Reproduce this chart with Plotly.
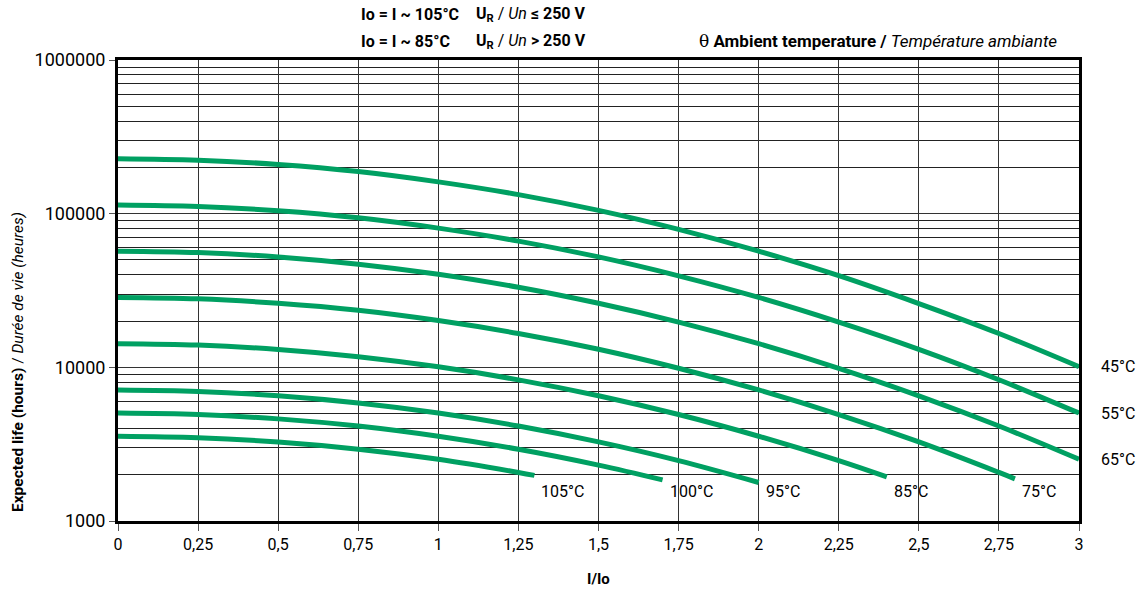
import plotly.graph_objects as go
import math

# ---- data ----
X_STEP = [0, 0.25, 0.5, 0.75, 1.0, 1.25, 1.5, 1.75, 2.0, 2.25, 2.5, 2.75, 3.0]

x_45 = X_STEP
life_45 = [228000, 223000, 209000, 188000, 161000, 133000, 105000, 79000, 57000, 39500, 26000, 16600, 10100]
x_55 = X_STEP
life_55 = [114000, 111500, 104500, 94000, 80500, 66300, 52300, 39400, 28500, 19700, 13100, 8300, 5040]
x_65 = X_STEP
life_65 = [57000, 55800, 52300, 46900, 40300, 33200, 26100, 19700, 14250, 9860, 6530, 4150, 2520]
x_75 = [0, 0.25, 0.5, 0.75, 1.0, 1.25, 1.5, 1.75, 2.0, 2.25, 2.5, 2.75, 2.8]
life_75 = [28500, 27900, 26100, 23500, 20150, 16600, 13100, 9860, 7125, 4930, 3270, 2070, 1880]
x_85 = [0, 0.25, 0.5, 0.75, 1.0, 1.25, 1.5, 1.75, 2.0, 2.25, 2.4]
life_85 = [14250, 13950, 13070, 11730, 10080, 8290, 6530, 4930, 3560, 2470, 1935]
x_95 = [0, 0.25, 0.5, 0.75, 1.0, 1.25, 1.5, 1.75, 2.0]
life_95 = [7125, 6970, 6530, 5860, 5040, 4150, 3270, 2470, 1780]
x_100 = [0, 0.25, 0.5, 0.75, 1.0, 1.25, 1.5, 1.7]
life_100 = [5040, 4930, 4620, 4150, 3560, 2930, 2310, 1850]
x_105 = [0, 0.25, 0.5, 0.75, 1.0, 1.25, 1.3]
life_105 = [3560, 3480, 3265, 2930, 2520, 2070, 1980]

series = [
    ("45°C", x_45, life_45, "right"),
    ("55°C", x_55, life_55, "right"),
    ("65°C", x_65, life_65, "right"),
    ("75°C", x_75, life_75, "below"),
    ("85°C", x_85, life_85, "below"),
    ("95°C", x_95, life_95, "below"),
    ("100°C", x_100, life_100, "below"),
    ("105°C", x_105, life_105, "below"),
]

x_tick_vals = [0, 0.25, 0.5, 0.75, 1, 1.25, 1.5, 1.75, 2, 2.25, 2.5, 2.75, 3]
x_tick_text = ["0", "0,25", "0,5", "0,75", "1", "1,25", "1,5", "1,75", "2", "2,25", "2,5", "2,75", "3"]
y_tick_vals = [1000, 10000, 100000, 1000000]
y_tick_text = ["1000", "10000", "100000", "1000000"]
y_minor_vals = [m * d for d in (1000, 10000, 100000) for m in range(2, 10)]

GREEN = "#00A062"
FONT = "Roboto, 'Open Sans', sans-serif"

W, H = 1142, 592
L, R, T, B = 118, 63, 60, 71
PW, PH = W - L - R, H - T - B


def px(xp):
    return (xp - L) / PW


def py(yp):
    return (H - B - yp) / PH


fig = go.Figure()
for name, xs, ys, pos in series:
    fig.add_trace(go.Scatter(x=xs, y=ys, mode="lines", name=name,
                             line=dict(color=GREEN, width=5, shape="spline"),
                             showlegend=False, hoverinfo="x+y"))

lab_font = dict(size=16, color="black", family=FONT)
annotations = []
for name, xs, ys, pos in series:
    if pos == "right":
        annotations.append(dict(x=xs[-1], y=math.log10(ys[-1]), xref="x", yref="y",
                                text=name, showarrow=False, xanchor="left", yanchor="middle",
                                xshift=20, font=lab_font))
    else:
        annotations.append(dict(x=xs[-1], y=py(491), xref="x", yref="paper",
                                text=name, showarrow=False, xanchor="left", yanchor="middle",
                                xshift=5, font=lab_font))

hdr = dict(size=16, color="black", family=FONT)
annotations += [
    dict(x=px(359), y=py(15), xref="paper", yref="paper", xanchor="left", yanchor="middle",
         text="<b>Io = I ~ 105°C</b>", showarrow=False, font=hdr),
    dict(x=px(474), y=py(15), xref="paper", yref="paper", xanchor="left", yanchor="middle",
         text="<b>U<sub>R</sub></b> / <i>Un</i> <b>≤ 250 V</b>", showarrow=False, font=hdr),
    dict(x=px(359), y=py(41), xref="paper", yref="paper", xanchor="left", yanchor="middle",
         text="<b>Io = I ~ 85°C</b>", showarrow=False, font=hdr),
    dict(x=px(474), y=py(41), xref="paper", yref="paper", xanchor="left", yanchor="middle",
         text="<b>U<sub>R</sub></b> / <i>Un</i> <b>> 250 V</b>", showarrow=False, font=hdr),
    dict(x=px(697), y=py(41), xref="paper", yref="paper", xanchor="left", yanchor="middle",
         text="<span style='font-family:DejaVu Serif'>θ</span> <b>Ambient temperature /</b> <i>Température ambiante</i>",
         showarrow=False, font=dict(size=17, color="black", family=FONT)),
    dict(x=px(598), y=py(579), xref="paper", yref="paper", xanchor="center", yanchor="middle",
         text="<b>I/Io</b>", showarrow=False, font=dict(size=15, color="black", family=FONT)),
    dict(x=px(18), y=py(362), xref="paper", yref="paper", xanchor="center", yanchor="middle",
         text="<b>Expected life (hours)</b> / <i>Durée de vie (heures)</i>", textangle=-90,
         showarrow=False, font=dict(size=15.5, color="black", family=FONT)),
]

fig.update_layout(
    width=W, height=H,
    margin=dict(l=L, r=R, t=T, b=B),
    paper_bgcolor="white", plot_bgcolor="white",
    font=dict(family=FONT, color="black"),
    annotations=annotations,
    xaxis=dict(range=[0, 3], tickmode="array", tickvals=x_tick_vals, ticktext=x_tick_text,
               showgrid=True, gridcolor="#333", gridwidth=1.3, zeroline=False,
               showline=True, linewidth=3, linecolor="black", mirror=True,
               ticks="outside", ticklen=7, tickcolor="#555", tickwidth=1,
               tickfont=dict(size=16, color="black", family=FONT)),
    yaxis=dict(type="log", range=[3, 6], tickmode="array", tickvals=y_tick_vals, ticktext=y_tick_text,
               showgrid=True, gridcolor="#333", gridwidth=1.3, zeroline=False,
               showline=True, linewidth=3, linecolor="black", mirror=True,
               ticks="outside", ticklen=6, tickcolor="#555", tickwidth=1,
               tickfont=dict(size=18, color="black", family=FONT),
               minor=dict(tickmode="array", tickvals=y_minor_vals, showgrid=True,
                          gridcolor="#222", gridwidth=1, ticks="")),
)

fig.write_html("out.html", config={"displayModeBar": False},
               post_script="document.body.style.margin='0px';")
